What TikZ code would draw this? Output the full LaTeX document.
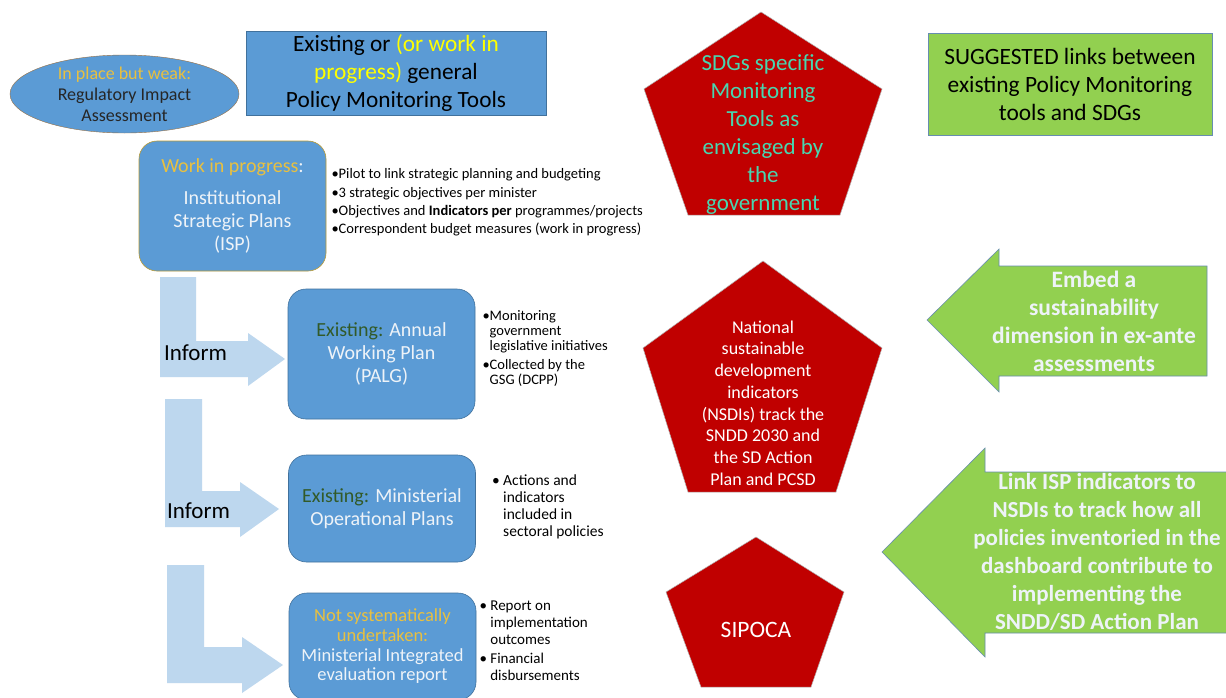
\documentclass[tikz,border=0pt]{standalone}
\usepackage{fontspec}
\setmainfont{Carlito}
\usetikzlibrary{positioning,shapes.geometric}

\definecolor{boxblue}{RGB}{91,155,213}
\definecolor{boxline}{RGB}{65,113,156}
\definecolor{informblue}{RGB}{189,215,238}
\definecolor{sdgred}{RGB}{192,0,0}
\definecolor{linkgreen}{RGB}{146,208,80}
\definecolor{gold}{RGB}{232,192,64}
\definecolor{hiyellow}{RGB}{255,255,0}
\definecolor{sdgtext}{RGB}{72,214,176}
\definecolor{existgreen}{RGB}{50,90,40}
\definecolor{paletext}{RGB}{238,243,248}
\definecolor{riaborder}{RGB}{150,112,70}

\begin{document}
\begin{tikzpicture}[x=1pt,y=-1pt,
  plan/.style={draw=boxline, fill=boxblue, rounded corners=18pt, text=paletext, align=center,
    minimum width=187pt, line width=0.6pt},
  note/.style={inner sep=0pt, align=left, anchor=west},
  tool/.style={fill=sdgred, draw=gray!60, line width=0.5pt},
  link/.style={fill=linkgreen, draw=boxline!80, line width=0.6pt},
  inform/.style={fill=informblue},
  word/.style={inner sep=0pt, align=center}]
\useasboundingbox (0,0) rectangle (1226,697);
\fill[white] (0,0) rectangle (1226,697);

% left column
\node[ellipse, draw=riaborder, fill=boxblue, minimum width=229pt, minimum height=78pt, inner sep=0pt,
  align=center, text=black!85, font=\fontsize{18}{21}\selectfont] (ria) at (124.5,94)
  {{\color{gold}In place but weak:}\\Regulatory Impact\\Assessment};
\node[draw=boxline, fill=boxblue, minimum width=300pt, minimum height=80pt, align=center,
  font=\fontsize{23.3}{28}\selectfont] (tools) at (396,73)
  {Existing or {\color{hiyellow}(or work in}\\{\color{hiyellow}progress)} general\\Policy Monitoring Tools};

\node[plan, draw=gold!80!black, minimum height=130pt, font=\fontsize{20}{23}\selectfont] (isp) at (232.5,206)
  {{\color{gold}Work in progress}:\\[9pt]Institutional\\Strategic Plans\\(ISP)};
\node[note, right=5pt of isp, yshift=3.5pt, font=\fontsize{14.5}{18.3}\selectfont] (isptxt)
  {•Pilot to link strategic planning and budgeting\\•3 strategic objectives per minister\\
   •Objectives and \textbf{Indicators per} programmes/projects\\•Correspondent budget measures (work in progress)};

\node[plan, minimum height=130pt, font=\fontsize{20}{23}\selectfont] (palg) at (381.5,354)
  {{\color{existgreen}Existing:} Annual\\Working Plan\\(PALG)};
\node[note, right=7pt of palg, yshift=5pt, font=\fontsize{14.5}{15}\selectfont] (palgtxt)
  {•Monitoring\\\phantom{•}government\\\phantom{•}legislative initiatives\\[4pt]•Collected by the\\\phantom{•}GSG (DCPP)};

\node[plan, minimum height=107pt, font=\fontsize{20}{23}\selectfont] (mop) at (382,508.5)
  {{\color{existgreen}Existing:} Ministerial\\Operational Plans};
\node[note, right=16pt of mop, yshift=2pt, font=\fontsize{15.5}{17}\selectfont] (moptxt)
  {• Actions and\\\phantom{• }indicators\\\phantom{• }included in\\\phantom{• }sectoral policies};

\node[plan, minimum height=107pt, font=\fontsize{18.5}{19.7}\selectfont] (mier) at (382.5,646.5)
  {{\color{gold}Not systematically}\\{\color{gold}undertaken:}\\Ministerial Integrated\\evaluation report};
\node[note, right=3pt of mier, yshift=5.5pt, font=\fontsize{15}{17}\selectfont] (miertxt)
  {• Report on\\\phantom{• }implementation\\\phantom{• }outcomes\\[2pt]• Financial\\\phantom{• }disbursements};

% inform arrows
\fill[inform] (160,277) -- (196,277) -- (196,341) -- (248,341) -- (248,333) -- (285,359)
  -- (248,386) -- (248,377) -- (160,377) -- cycle;
\fill[inform] (165,399) -- (202,399) -- (202,491) -- (240,491) -- (240,482) -- (279,509)
  -- (240,537) -- (240,527) -- (165,527) -- cycle;
\fill[inform] (167,565) -- (204,565) -- (204,647) -- (242,647) -- (242,637) -- (283,665)
  -- (242,693) -- (242,683) -- (167,683) -- cycle;
\node[note, font=\fontsize{23}{24}\selectfont] (inform1) at (164,353) {Inform};
\node[note, font=\fontsize{23}{24}\selectfont] (inform2) at (167,511) {Inform};

% SDG tools
\filldraw[tool] (761,12) -- (882,89) -- (840,215) -- (688,215) -- (644,89) -- cycle;
\node[word, text=sdgtext, font=\fontsize{23}{28}\selectfont] (sdg) at (763,135)
  {SDGs specific\\Monitoring\\Tools as\\envisaged by\\the\\government};
\filldraw[tool] (763,261) -- (882,348) -- (836,492) -- (688,492) -- (643,348) -- cycle;
\node[word, text=white, font=\fontsize{18}{21.7}\selectfont] (nsdi) at (763,403)
  {National\\sustainable\\development\\indicators\\(NSDIs) track the\\SNDD 2030 and\\the SD Action\\Plan and PCSD};
\filldraw[tool] (756,537) -- (844,592) -- (811,687) -- (701,687) -- (666,592) -- cycle;
\node[word, text=white, font=\fontsize{23.5}{24}\selectfont] (sipoca) at (756,630) {SIPOCA};

% suggested links
\node[link, minimum width=284pt, minimum height=102pt, align=center, font=\fontsize{23.4}{28}\selectfont]
  (links) at (1070,84) {SUGGESTED links between\\existing Policy Monitoring\\tools and SDGs};
\filldraw[link] (927,320) -- (999,249) -- (999,266) -- (1207,266) -- (1207,376) -- (999,376)
  -- (999,392) -- cycle;
\node[word, text=paletext, font=\bfseries\fontsize{23.5}{28}\selectfont] (embed) at (1094,321.5)
  {Embed a\\sustainability\\dimension in ex-ante\\assessments};
\filldraw[link] (882,552) -- (985,448) -- (985,472) -- (1232,472) -- (1232,633) -- (985,633)
  -- (985,657) -- cycle;
\node[word, text=paletext, font=\bfseries\fontsize{23}{28}\selectfont] (linkisp) at (1097,552)
  {Link ISP indicators to\\NSDIs to track how all\\policies inventoried in the\\dashboard contribute to\\implementing the\\SNDD/SD Action Plan};
\end{tikzpicture}
\end{document}
